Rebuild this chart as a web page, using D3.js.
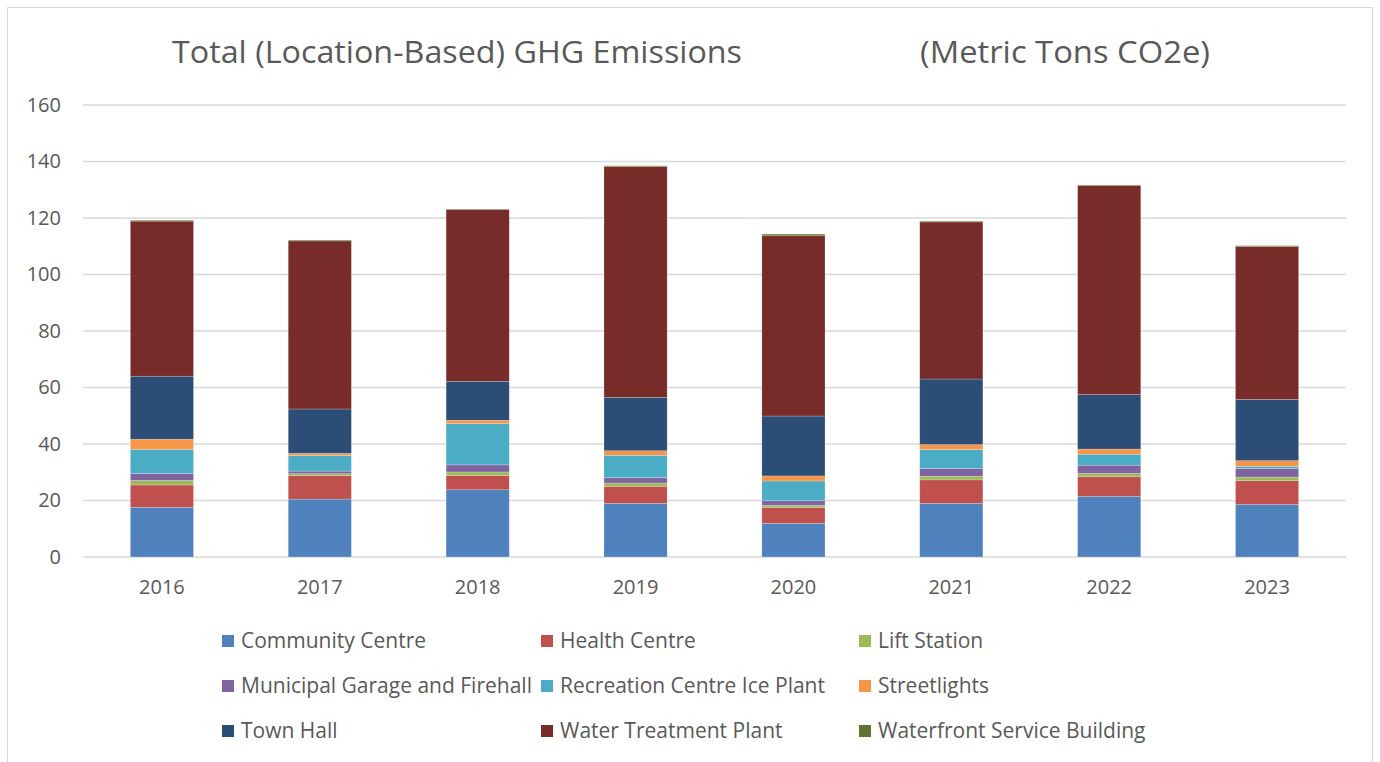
<!DOCTYPE html>
<html>
<head>
<meta charset="utf-8">
<script src="https://cdn.jsdelivr.net/npm/d3@7"></script>
<style>
  body { margin: 0; background: #fff; }
  text { font-family: "Open Sans", "Noto Sans", sans-serif; fill: #595959; }
</style>
</head>
<body>
<script>
// chart data
var years = ["2016", "2017", "2018", "2019", "2020", "2021", "2022", "2023"];
var sites = ["Community Centre", "Health Centre", "Lift Station",
             "Municipal Garage and Firehall", "Recreation Centre Ice Plant", "Streetlights",
             "Town Hall", "Water Treatment Plant", "Waterfront Service Building"];
var siteColors = ["#4f81bd", "#c0504d", "#9bbb59", "#8064a2", "#4bacc6", "#f79646",
                  "#2c4d75", "#772c2a", "#5f7530"];

var communityCentre = [17.6, 20.5, 23.8, 19.0, 11.9, 19.0, 21.5, 18.6];
var healthCentre    = [7.9, 8.3, 5.0, 6.0, 5.6, 8.3, 6.9, 8.4];
var liftStation     = [1.6, 0.7, 1.3, 1.2, 0.8, 1.3, 1.2, 1.3];
var garageFirehall  = [2.4, 0.9, 2.5, 1.9, 1.6, 2.7, 2.9, 3.0];
var iceplant        = [8.6, 5.5, 14.6, 7.9, 7.0, 6.7, 3.9, 0.8];
var streetlights    = [3.6, 0.8, 1.2, 1.6, 1.8, 1.8, 1.8, 2.0];
var townHall        = [22.3, 15.7, 13.8, 18.9, 21.2, 23.2, 19.3, 21.7];
var waterTreatment  = [54.9, 59.5, 60.8, 81.7, 63.8, 55.6, 74.0, 54.1];
var waterfront      = [0.3, 0.3, 0.2, 0.3, 0.6, 0.3, 0.2, 0.3];

var yTicks = [0, 20, 40, 60, 80, 100, 120, 140, 160];

var seriesValues = [communityCentre, healthCentre, liftStation, garageFirehall, iceplant,
                    streetlights, townHall, waterTreatment, waterfront];

// rows for d3.stack
var rows = years.map(function (yr, i) {
    var r = { year: yr };
    sites.forEach(function (s, k) { r[s] = seriesValues[k][i]; });
    return r;
});

var width = 1380, height = 762;
var plot = { left: 83, right: 1346, top: 105, bottom: 557 };

var svg = d3.select("body").append("svg")
    .attr("width", width)
    .attr("height", height);

// outer chart frame
svg.append("rect")
    .attr("x", 7.5).attr("y", 7.5)
    .attr("width", 1365).attr("height", 770)
    .attr("fill", "none")
    .attr("stroke", "#d9d9d9")
    .attr("stroke-width", 1);

var x = d3.scaleBand()
    .domain(years)
    .range([plot.left, plot.right])
    .paddingInner(0.6)
    .paddingOuter(0.3);

var y = d3.scaleLinear()
    .domain([0, 160])
    .range([plot.bottom, plot.top]);

var color = d3.scaleOrdinal().domain(sites).range(siteColors);

// gridlines
svg.append("g")
    .selectAll("line")
    .data(yTicks)
    .enter().append("line")
    .attr("x1", plot.left)
    .attr("x2", plot.right)
    .attr("y1", function (d) { return y(d); })
    .attr("y2", function (d) { return y(d); })
    .attr("stroke", "#d9d9d9")
    .attr("stroke-width", 1.5);

// y axis labels
var yAxis = d3.axisLeft(y).tickValues(yTicks).tickSize(0).tickPadding(22);
var yg = svg.append("g")
    .attr("transform", "translate(" + plot.left + ",0)")
    .call(yAxis);
yg.select(".domain").remove();
yg.selectAll("text")
    .style("font-size", "20px")
    .attr("fill", "#595959");

// x axis labels
var xAxis = d3.axisBottom(x).tickSize(0).tickPadding(23);
var xg = svg.append("g")
    .attr("transform", "translate(0," + plot.bottom + ")")
    .call(xAxis);
xg.select(".domain").remove();
xg.selectAll("text")
    .style("font-size", "20px")
    .attr("fill", "#595959");

// stacked bars
var stacked = d3.stack().keys(sites)(rows);

svg.append("g")
    .selectAll("g")
    .data(stacked)
    .enter().append("g")
    .attr("fill", function (d) { return color(d.key); })
    .selectAll("rect")
    .data(function (d) { return d; })
    .enter().append("rect")
    .attr("x", function (d) { return x(d.data.year); })
    .attr("y", function (d) { return y(d[1]); })
    .attr("width", x.bandwidth())
    .attr("height", function (d) { return y(d[0]) - y(d[1]); })
    .attr("stroke", "#ffffff")
    .attr("stroke-opacity", 0.35)
    .attr("stroke-width", 0.6);

// title (two parts, as in the original)
svg.append("text")
    .attr("x", 172).attr("y", 63)
    .attr("textLength", 570)
    .attr("lengthAdjust", "spacingAndGlyphs")
    .style("font-size", "31px")
    .text("Total (Location-Based) GHG Emissions");

svg.append("text")
    .attr("x", 920).attr("y", 63)
    .attr("textLength", 290)
    .attr("lengthAdjust", "spacingAndGlyphs")
    .style("font-size", "31px")
    .text("(Metric Tons CO2e)");

// legend: 3 columns x 3 rows
var legendCols = [222, 541, 859], legendRows = [641, 686, 731];
var legend = svg.append("g")
    .selectAll("g")
    .data(sites)
    .enter().append("g")
    .attr("transform", function (d, i) {
        return "translate(" + legendCols[i % 3] + "," + legendRows[Math.floor(i / 3)] + ")";
    });

legend.append("rect")
    .attr("x", 0).attr("y", -6)
    .attr("width", 12).attr("height", 12)
    .attr("fill", function (d) { return color(d); });

legend.append("text")
    .attr("x", 19).attr("y", 0)
    .attr("dy", "0.35em")
    .style("font-size", "21px")
    .text(function (d) { return d; });
</script>
</body>
</html>
